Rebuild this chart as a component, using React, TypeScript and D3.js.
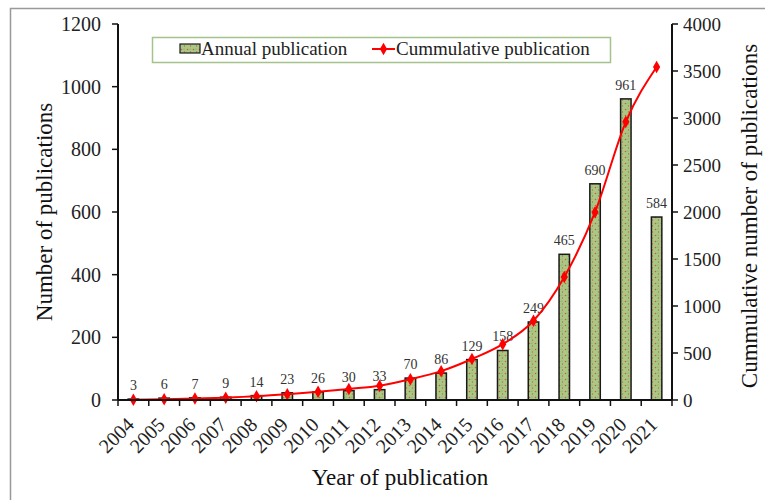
import React from 'react';
import * as d3 from 'd3';

const years = ['2004', '2005', '2006', '2007', '2008', '2009', '2010', '2011', '2012',
  '2013', '2014', '2015', '2016', '2017', '2018', '2019', '2020', '2021'];
const annual = [3, 6, 7, 9, 14, 23, 26, 30, 33, 70, 86, 129, 158, 249, 465, 690, 961, 584];
const cumulative = [3, 9, 16, 25, 39, 62, 88, 118, 151, 221, 307, 436, 594, 843, 1308, 1998, 2959, 3543];
const leftTicks = [0, 200, 400, 600, 800, 1000, 1200];
const rightTicks = [0, 500, 1000, 1500, 2000, 2500, 3000, 3500, 4000];

const width = 765;
const height = 500;
const left = 118;
const right = 672;
const top = 24;
const bottom = 400;
const serif = '"Liberation Serif", "Times New Roman", serif';

const x = d3.scaleBand().domain(years).range([left, right]).paddingInner(0.66).paddingOuter(0.33);
const band = d3.scaleBand().domain(years).range([left, right]);
const yL = d3.scaleLinear().domain([0, 1200]).range([bottom, top]);
const yR = d3.scaleLinear().domain([0, 4000]).range([bottom, top]);

const line = d3.line<number>()
  .x((d, i) => band(years[i])! + band.bandwidth() / 2)
  .y(d => yR(d))
  .curve(d3.curveMonotoneX);

const diamond = d3.symbol().type(d3.symbolDiamond).size(45)();

export default function App() {
  const boundaries = years.map(y => band(y)!).concat([right]);
  return (
    <svg width={width} height={height} style={{ position: 'fixed', left: 0, top: 0 }}
      fontFamily={serif}>
      <defs>
        <pattern id="dots" width="6" height="6" patternUnits="userSpaceOnUse">
          <rect width="6" height="6" fill="#a9c883" />
          <circle cx="1.5" cy="1.5" r="0.8" fill="#cf5a4a" />
          <circle cx="4.5" cy="4" r="0.7" fill="#c7604f" />
          <circle cx="4" cy="1" r="0.5" fill="#6f9a55" />
        </pattern>
      </defs>
      <rect x={10.5} y={8.5} width={width} height={height} fill="white" stroke="#999" strokeWidth={1.5} />

      {/* bars */}
      {annual.map((v, i) => (
        <rect key={years[i]} x={x(years[i])} y={yL(v)} width={x.bandwidth()} height={bottom - yL(v)}
          fill="url(#dots)" stroke="#1a1a1a" strokeWidth={1.5} />
      ))}
      {annual.map((v, i) => (
        <text key={'l' + years[i]} x={x(years[i])! + x.bandwidth() / 2} y={yL(v) - 9}
          textAnchor="middle" fontSize={14} fill="#333">{v}</text>
      ))}

      {/* cumulative line */}
      <path d={line(cumulative)!} fill="none" stroke="#ff0000" strokeWidth={2} />
      {cumulative.map((v, i) => (
        <path key={'m' + i} d={diamond!} fill="#ff0000"
          transform={`translate(${band(years[i])! + band.bandwidth() / 2},${yR(v)})`} />
      ))}

      {/* x axis */}
      <line x1={left} x2={right} y1={bottom} y2={bottom} stroke="#111" strokeWidth={2} />
      {boundaries.map((b, i) => (
        <line key={'xt' + i} x1={b} x2={b} y1={bottom} y2={bottom + 6} stroke="#111" strokeWidth={1.5} />
      ))}
      {years.map(y => (
        <text key={'xl' + y} fontSize={20} fill="#222" textAnchor="end"
          transform={`translate(${band(y)! + band.bandwidth() / 2 + 2},${bottom + 26}) rotate(-45)`}>{y}</text>
      ))}

      {/* left axis */}
      <line x1={left} x2={left} y1={top} y2={bottom} stroke="#111" strokeWidth={2} />
      {leftTicks.map(t => (
        <g key={'ly' + t}>
          <line x1={left - 6} x2={left} y1={yL(t)} y2={yL(t)} stroke="#111" strokeWidth={1.5} />
          <text x={left - 17} y={yL(t)} dy="0.35em" textAnchor="end" fontSize={20} fill="#222">{t}</text>
        </g>
      ))}

      {/* right axis */}
      <line x1={right} x2={right} y1={top} y2={bottom} stroke="#111" strokeWidth={2} />
      {rightTicks.map(t => (
        <g key={'ry' + t}>
          <line x1={right} x2={right + 6} y1={yR(t)} y2={yR(t)} stroke="#111" strokeWidth={1.5} />
          <text x={right + 11} y={yR(t)} dy="0.35em" textAnchor="start" fontSize={19} fill="#222">{t}</text>
        </g>
      ))}

      {/* titles */}
      <text transform={`translate(52,${(top + bottom) / 2}) rotate(-90)`} textAnchor="middle"
        fontSize={23} fill="#111">Number of publications</text>
      <text transform={`translate(757,${(top + bottom) / 2 + 4}) rotate(-90)`} textAnchor="middle"
        fontSize={23} fill="#111">Cummulative number of publications</text>
      <text x={400} y={485} textAnchor="middle" fontSize={23} fill="#111">Year of publication</text>

      {/* legend */}
      <rect x={152.5} y={37.5} width={458} height={25} fill="white" stroke="#a4c38c" strokeWidth={1.5} />
      <rect x={180} y={44} width={20} height={9} fill="url(#dots)" stroke="#1a1a1a" strokeWidth={1.2} />
      <text x={201} y={55} fontSize={19} fill="#222">Annual publication</text>
      <line x1={372} x2={395} y1={49} y2={49} stroke="#ff0000" strokeWidth={2} />
      <path d={diamond!} fill="#ff0000" transform="translate(383.5,49)" />
      <text x={396} y={55} fontSize={19} fill="#222">Cummulative publication</text>
    </svg>
  );
}
